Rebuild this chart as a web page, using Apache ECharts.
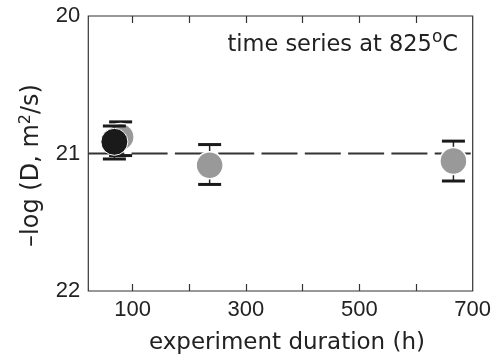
<!DOCTYPE html>
<html><head><meta charset="utf-8">
<script src="https://cdn.jsdelivr.net/npm/echarts@6/dist/echarts.min.js"></script>
<style>html,body{margin:0;padding:0;background:#fff}#c{width:497px;height:364px}</style>
</head><body><div id="c"></div>
<script>
// ---- data ----
const xMin = 22, xMax = 700;
const yMin = 20, yMax = 22;
const xTickValues = [100, 200, 300, 400, 500, 600];
const xLabelValues = [100, 300, 500, 700];
const yLabelValues = [20, 21, 22];
const refLevel = 21;
const grayDuration = [79, 236, 666];
const grayLogD = [20.88, 21.085, 21.055];
const grayErrTop = [20.77, 20.935, 20.91];
const grayErrBottom = [21.015, 21.225, 21.2];
const blackDuration = [68];
const blackLogD = [20.915];
const blackErrTop = [20.80];
const blackErrBottom = [21.04];

const grayPts = grayDuration.map((x, i) => [x, grayLogD[i]]);
const grayErr = grayDuration.map((x, i) => [x, grayErrTop[i], grayErrBottom[i]]);
const blackPts = blackDuration.map((x, i) => [x, blackLogD[i]]);
const blackErr = blackDuration.map((x, i) => [x, blackErrTop[i], blackErrBottom[i]]);

function errRender(params, api) {
  const x = api.value(0), lo = api.value(1), hi = api.value(2);
  const p1 = api.coord([x, lo]), p2 = api.coord([x, hi]);
  const hw = 11.5;
  return {
    type: 'group', children: [
      { type: 'line', shape: { x1: p1[0], y1: p1[1], x2: p2[0], y2: p2[1] }, style: { stroke: '#222', lineWidth: 1.5 } },
      { type: 'line', shape: { x1: p1[0] - hw, y1: p1[1], x2: p1[0] + hw, y2: p1[1] }, style: { stroke: '#1a1a1a', lineWidth: 3 } },
      { type: 'line', shape: { x1: p2[0] - hw, y1: p2[1], x2: p2[0] + hw, y2: p2[1] }, style: { stroke: '#1a1a1a', lineWidth: 3 } }
    ]
  };
}

const TXT = '#222';
const chart = echarts.init(document.getElementById('c'), null, { renderer: 'canvas' });
chart.setOption({
  animation: false,
  backgroundColor: '#fff',
  grid: { left: 88.3, right: 24.3, top: 16, bottom: 73, show: true, borderColor: '#333', borderWidth: 1.2, backgroundColor: 'transparent' },
  xAxis: [{
    type: 'value', min: xMin, max: xMax, position: 'bottom',
    axisLine: { show: false },
    splitLine: { show: false },
    axisTick: { show: true, inside: true, length: 7, customValues: xTickValues, lineStyle: { color: '#333', width: 1.2 } },
    axisLabel: { show: true, customValues: xLabelValues, margin: 8, color: TXT, fontFamily: 'Liberation Sans', fontSize: 22 }
  }, {
    type: 'value', min: xMin, max: xMax, position: 'top',
    axisLine: { show: false },
    splitLine: { show: false },
    axisTick: { show: true, inside: true, length: 7, customValues: xTickValues, lineStyle: { color: '#333', width: 1.2 } },
    axisLabel: { show: false }
  }],
  yAxis: {
    type: 'value', min: yMin, max: yMax, interval: 1, inverse: true,
    axisLine: { show: false }, axisTick: { show: false }, splitLine: { show: false },
    axisLabel: { margin: 8, color: TXT, fontFamily: 'Liberation Sans', fontSize: 22, customValues: yLabelValues }
  },
  graphic: [
    {
      type: 'text', x: 458, y: 45,
      style: {
        text: 'time series at 825{sup|o}C',
        align: 'right', verticalAlign: 'middle', lineHeight: 32,
        fill: TXT, font: '22.5px "DejaVu Sans"',
        rich: { sup: { fontSize: 17, fontFamily: 'DejaVu Sans', fill: TXT, verticalAlign: 'top', lineHeight: 16 } }
      }
    },
    {
      type: 'text', x: 287, y: 343,
      style: { text: 'experiment duration (h)', align: 'center', verticalAlign: 'middle', fill: TXT, font: '23px "DejaVu Sans"' }
    },
    {
      type: 'text', x: 32, y: 165.5, rotation: Math.PI / 2,
      style: {
        text: '\u2013log (D, m{sup|2}/s)',
        align: 'center', verticalAlign: 'middle', lineHeight: 28,
        fill: TXT, font: '24px "DejaVu Sans"',
        rich: { sup: { fontSize: 16, fontFamily: 'DejaVu Sans', fill: TXT, verticalAlign: 'top', lineHeight: 18 } }
      }
    }
  ],
  series: [
    {
      type: 'line', z: 1, silent: true, symbol: 'none',
      data: [[xMin, refLevel], [xMax, refLevel]],
      lineStyle: { color: '#333', width: 2.2, type: [36, 7.3] }
    },
    { type: 'custom', z: 2, renderItem: errRender, data: grayErr, encode: { x: 0, y: [1, 2] } },
    { type: 'scatter', z: 3, data: grayPts, symbolSize: 27, itemStyle: { color: '#999999', borderColor: '#fff', borderWidth: 1.5, opacity: 1 } },
    { type: 'custom', z: 4, renderItem: errRender, data: blackErr, encode: { x: 0, y: [1, 2] } },
    { type: 'scatter', z: 5, data: blackPts, symbolSize: 27, itemStyle: { color: '#1a1a1a', borderColor: '#fff', borderWidth: 1, opacity: 1 } }
  ]
});
</script>
</body></html>
